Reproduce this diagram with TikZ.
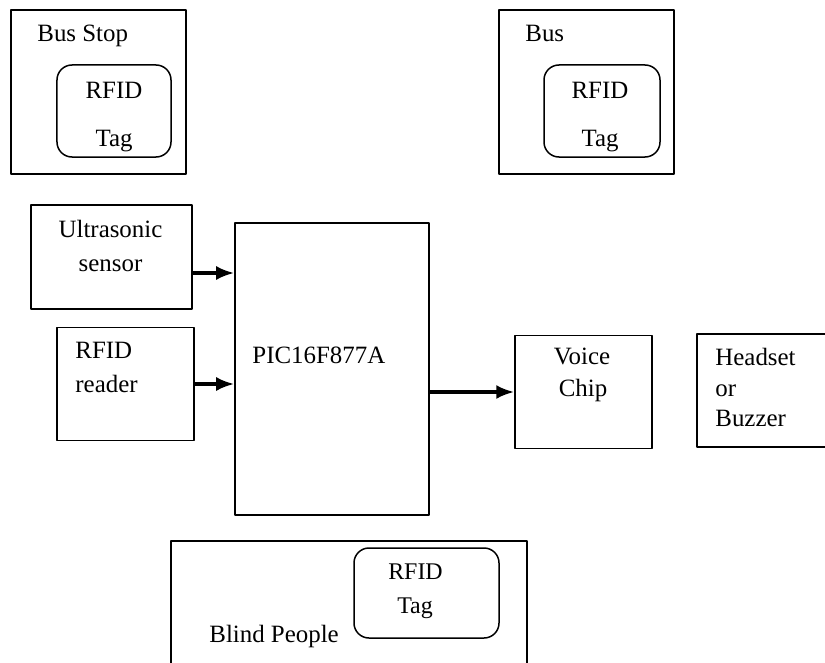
\documentclass[tikz,border=0pt]{standalone}
\usepackage{fontspec}
\setmainfont{Liberation Serif}
\usetikzlibrary{arrows.meta}
\tikzset{
  blockbox/.style={draw, rectangle, line width=0.75bp, inner sep=0pt},
  tagbox/.style={draw, rectangle, rounded corners=7.5bp, line width=0.75bp, inner sep=0pt},
  txt/.style={inner sep=0pt, font=\fontsize{12.5}{15}\selectfont},
  smalltxt/.style={inner sep=0pt, font=\fontsize{12}{14}\selectfont},
  flow/.style={->, line width=1.6bp},
}
\begin{document}
\begin{tikzpicture}[x=0.5bp,y=-0.5bp,>={Latex[length=9bp,width=7bp]},line join=bevel]
  \useasboundingbox (0,0) rectangle (825,663);
  \clip (0,0) rectangle (825,663);
%%
  % Node: busstop
  \node (busstop) [blockbox, minimum width=87.5bp, minimum height=82bp] at (98.5,92) {};
  \node (busstoplbl) [txt, anchor=base west] at (37,42) {Bus Stop};
  \node (busstoptag) [tagbox, minimum width=57bp, minimum height=46bp] at (114,111) {};
  \node (busstoprfid) [txt, anchor=base] at (114,99) {RFID};
  \node (busstoptg) [txt, anchor=base] at (114,147) {Tag};
  % Node: bus
  \node (bus) [blockbox, minimum width=87.5bp, minimum height=82bp] at (586.5,92) {};
  \node (buslbl) [txt, anchor=base west] at (525,42) {Bus};
  \node (bustag) [tagbox, minimum width=58bp, minimum height=46bp] at (602,111) {};
  \node (busrfid) [txt, anchor=base] at (600,99) {RFID};
  \node (bustg) [txt, anchor=base] at (600,147) {Tag};
  % Node: ultra
  \node (ultra) [blockbox, minimum width=80.5bp, minimum height=52bp] at (111.5,257) {};
  \node (ultralbl1) [txt, anchor=base] at (110.5,238) {Ultrasonic};
  \node (ultralbl2) [txt, anchor=base] at (110.5,271) {sensor};
  % Node: reader
  \node (reader) [blockbox, minimum width=68.5bp, minimum height=56.5bp] at (125.5,384) {};
  \node (readerlbl1) [txt, anchor=base west] at (75,358) {RFID};
  \node (readerlbl2) [txt, anchor=base west] at (75,392) {reader};
  % Node: pic
  \node (pic) [blockbox, minimum width=97bp, minimum height=146bp] at (332,369) {};
  \node (piclbl) [txt, anchor=base west] at (252,363) {PIC16F877A};
  % Node: voice
  \node (voice) [blockbox, minimum width=68.5bp, minimum height=56.5bp] at (583.5,392) {};
  \node (voicelbl1) [txt, anchor=base] at (582,364) {Voice};
  \node (voicelbl2) [txt, anchor=base] at (583,396) {Chip};
  % Node: headset
  \node (headset) [blockbox, minimum width=76.5bp, minimum height=56.5bp] at (773.5,390.5) {};
  \node (headsetlbl1) [txt, anchor=base west] at (715,365) {Headset};
  \node (headsetlbl2) [txt, anchor=base west] at (715,396) {or};
  \node (headsetlbl3) [txt, anchor=base west] at (715,426) {Buzzer};
  % Node: blind
  \node (blind) [blockbox, minimum width=178bp, minimum height=79.5bp] at (349,620.5) {};
  \node (blindlbl) [txt, anchor=base west] at (209,642) {Blind People};
  \node (blindtag) [tagbox, minimum width=72.5bp, minimum height=45bp] at (426.5,593) {};
  \node (blindrfid) [smalltxt, anchor=base] at (415.5,579) {RFID};
  \node (blindtg) [smalltxt, anchor=base] at (415,613) {Tag};
%%
  % Edge: ultra -> pic
  \coordinate (ultraout) at ([yshift=-8bp]ultra.east);
  \draw [flow] (ultraout) -- (ultraout -| pic.west);
  % Edge: reader -> pic
  \draw [flow] (reader.east) -- (reader.east -| pic.west);
  % Edge: pic -> voice
  \draw [flow] (voice.west -| pic.east) -- (voice.west);
%
\end{tikzpicture}
\end{document}
